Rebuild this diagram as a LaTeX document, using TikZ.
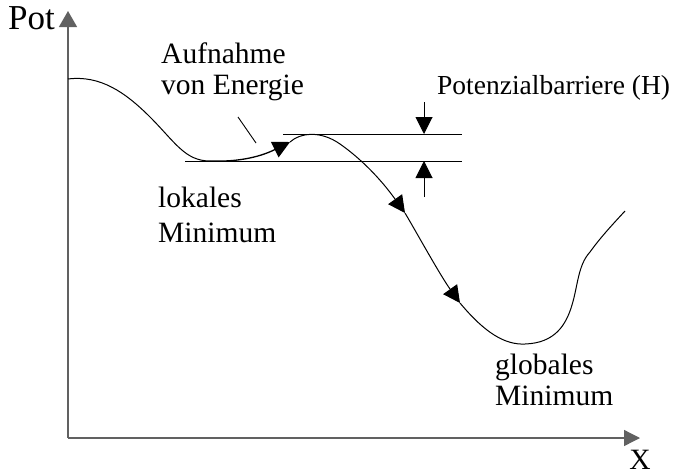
\documentclass[tikz,border=0pt]{standalone}
\usepackage{fontspec}
\setmainfont{Liberation Serif}
\usetikzlibrary{arrows.meta}
\begin{document}
\begin{tikzpicture}[x=1pt,y=-1pt,
  axisline/.style={draw=black!62, line width=1.3pt},
  curveline/.style={draw=black, line width=1pt},
  levelline/.style={draw=black, line width=1pt},
  tip/.style={-{Triangle[length=17pt,width=17pt]}},
  label/.style={inner sep=0pt, anchor=base west, align=left,
    font=\fontsize{29.5}{31}\selectfont}]
\useasboundingbox (0,0) rectangle (692,474);

% axes
\coordinate (origin) at (68,438);
\coordinate (ytop) at (68,11);
\coordinate (xend) at (640,438);
\draw[axisline, -{Triangle[length=16pt,width=18pt]}] (origin) -- (ytop);
\draw[axisline, -{Triangle[length=16pt,width=16pt]}] (origin) -- (xend);
\node[label, anchor=base east, font=\fontsize{35}{36}\selectfont] (pot) at (55,29) {Pot};
\node[label, anchor=base] (xlab) at (640,469) {X};

% potential curve
\coordinate (c0) at (68,79);
\coordinate (c1) at (150,117);
\coordinate (lmin) at (210,161);
\coordinate (a1) at (290,142);
\coordinate (c2) at (340,144);
\coordinate (a2) at (405,213);
\coordinate (a3) at (460,303);
\coordinate (gmin) at (525,344);
\coordinate (c3) at (572,305);
\coordinate (c4) at (590,252);
\coordinate (cend) at (625,211);

\draw[curveline] (c0) .. controls (100,75) and (125,92) .. (c1)
  .. controls (175,142) and (185,161) .. (lmin);
\draw[curveline, line width=1.3pt, tip] (lmin) .. controls (235,162) and (258,158) .. (a1);
\draw[curveline, tip] (a1) .. controls (300,133) and (320,130) .. (c2)
  .. controls (360,158) and (380,178) .. (a2);
\draw[curveline, tip] (a2) .. controls (418,235) and (440,275) .. (a3);
\draw[curveline] (a3) .. controls (485,333) and (505,345) .. (gmin)
  .. controls (555,343) and (566,325) .. (c3)
  .. controls (578,285) and (578,265) .. (c4)
  .. controls (600,238) and (612,225) .. (cend);

% barrier levels
\coordinate (top0) at (283,134);
\coordinate (top1) at (462,134);
\coordinate (bot0) at (185,161);
\coordinate (bot1) at (462,161);
\draw[levelline] (top0) -- (top1);
\draw[levelline] (bot0) -- (bot1);

% barrier height marks
\coordinate (h0) at (424,102);
\coordinate (h1) at (424,134);
\coordinate (h2) at (424,197);
\coordinate (h3) at (424,161);
\draw[levelline, tip] (h0) -- (h1);
\draw[levelline, tip] (h2) -- (h3);

% labels (base anchor sits on the last line)
\node[label, font=\fontsize{27.5}{31}\selectfont] (barrier) at (437,94) {Potenzialbarriere (H)};
\node[label] (energy) at (161,94) {Aufnahme\\von Energie};
\coordinate (p0) at (238,117);
\coordinate (p1) at (256,143);
\draw[line width=0.9pt] (p0) -- (p1);
\node[label, font=\fontsize{29.5}{35}\selectfont] (local) at (158,242) {lokales\\Minimum};
\node[label] (global) at (495,405) {globales\\Minimum};
\end{tikzpicture}
\end{document}
